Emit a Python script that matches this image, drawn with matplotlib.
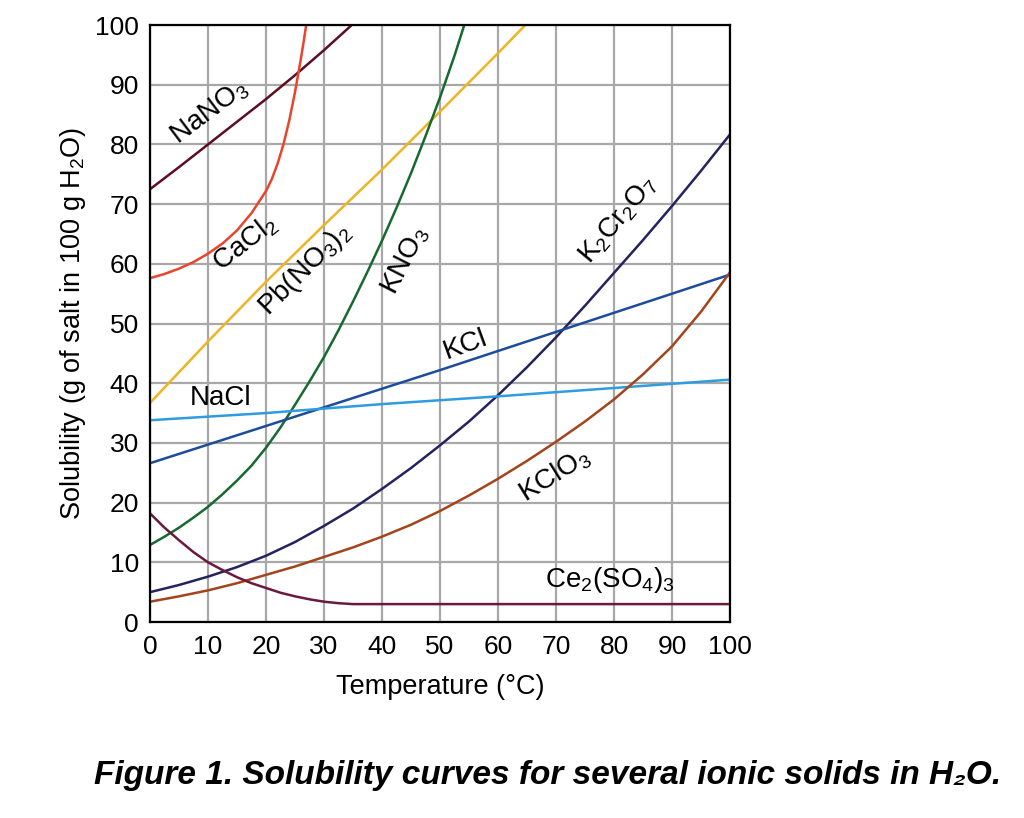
import matplotlib
matplotlib.use("Agg")
import matplotlib.pyplot as plt

plt.rcParams['font.family'] = ['Liberation Sans', 'DejaVu Sans']
plt.rcParams['mathtext.fontset'] = 'custom'
plt.rcParams['mathtext.rm'] = 'Liberation Sans'
plt.rcParams['mathtext.it'] = 'Liberation Sans:italic'
plt.rcParams['mathtext.bf'] = 'Liberation Sans:bold'

# solubility curves (temperature, g per 100 g water)
nano3_t = [0, 5, 10, 15, 20, 25, 30, 35]
nano3_s = [72.5, 76.2, 80, 83.8, 87.6, 91.6, 95.8, 100.2]

cacl2_t = [0, 2.5, 5, 7.5, 10, 12.5, 15, 17.5, 20, 21, 22, 23, 24, 25, 26, 26.5, 27]
cacl2_s = [57.6, 58.3, 59.2, 60.3, 61.7, 63.4, 65.6, 68.5, 72.2, 74.2, 76.8, 80, 84,
           88.8, 94.3, 97.3, 100.5]

pbno3_t = [0, 10, 20, 30, 40, 50, 60, 65]
pbno3_s = [36.7, 47, 57, 66.5, 75.8, 85.5, 95.3, 100.3]

kno3_t = [0, 2.5, 5, 7.5, 10, 12.5, 15, 17.5, 20, 22.5, 25, 27.5, 30,
          32.5, 35, 37.5, 40, 42.5, 45, 47.5, 50, 52.5, 54.3]
kno3_s = [12.9, 14.3, 15.8, 17.5, 19.3, 21.4, 23.7, 26.2, 29.2, 32.6, 36.4, 40.3, 44.4,
          48.9, 53.7, 58.7, 63.9, 69.4, 75.2, 81.4, 87.9, 94.9, 100.4]

k2cr2o7_t = [0, 5, 10, 15, 20, 25, 30, 35, 40, 45, 50,
             55, 60, 65, 70, 75, 80, 85, 90, 95, 100]
k2cr2o7_s = [5, 6.2, 7.6, 9.2, 11.1, 13.4, 16.1, 19, 22.3, 25.8, 29.6,
             33.6, 38, 42.7, 47.7, 53, 58.5, 64, 69.7, 75.6, 81.7]

kcl_t = [0, 50, 100]
kcl_s = [26.6, 42.2, 58.2]

nacl_t = [0, 20, 40, 60, 80, 100]
nacl_s = [33.8, 35, 36.5, 37.8, 39.2, 40.6]

kclo3_t = [0, 5, 10, 15, 20, 25, 30, 35, 40, 45, 50,
           55, 60, 65, 70, 75, 80, 85, 90, 95, 100]
kclo3_s = [3.4, 4.3, 5.3, 6.5, 7.9, 9.3, 10.9, 12.5, 14.3, 16.3, 18.6,
           21.2, 24, 27, 30.2, 33.6, 37.3, 41.5, 46.2, 52, 58.6]

ce2so4_t = [0, 2.5, 5, 7.5, 10, 12.5, 15, 17.5, 20, 22.5, 25, 27.5, 30, 32.5, 35, 40, 100]
ce2so4_s = [18.2, 15.8, 13.7, 11.7, 10, 8.7, 7.5, 6.5, 5.7, 4.9, 4.3, 3.8, 3.4, 3.15, 3.0, 3, 3]

fig = plt.figure(figsize=(10.24, 8.18), dpi=100)
ax = fig.add_axes([0.1465, 0.2396, 0.5665, 0.7298])

lw = 1.8
ax.plot(nano3_t, nano3_s, color='#5e0d22', lw=lw)
ax.plot(cacl2_t, cacl2_s, color='#e8452c', lw=lw)
ax.plot(pbno3_t, pbno3_s, color='#f0b323', lw=lw)
ax.plot(kno3_t, kno3_s, color='#17692f', lw=lw)
ax.plot(k2cr2o7_t, k2cr2o7_s, color='#24235e', lw=lw)
ax.plot(kcl_t, kcl_s, color='#1c4c9c', lw=lw)
ax.plot(nacl_t, nacl_s, color='#2e9ce0', lw=lw)
ax.plot(kclo3_t, kclo3_s, color='#a3441c', lw=lw)
ax.plot(ce2so4_t, ce2so4_s, color='#6a1a3c', lw=lw)

ax.set_xlim(0, 100)
ax.set_ylim(0, 100)
ax.set_xticks(range(0, 101, 10))
ax.set_yticks(range(0, 101, 10))
ax.tick_params(length=0, labelsize=19)
ax.tick_params(axis='x', pad=9)
ax.tick_params(axis='y', pad=8)
ax.grid(True, color='#a8a8a8', lw=1.6)
ax.set_axisbelow(True)
for sp in ax.spines.values():
    sp.set_linewidth(1.6)

ax.set_xlabel('Temperature (°C)', fontsize=19.5, labelpad=11)
ax.set_ylabel('Solubility (g of salt in 100 g H$_2$O)', fontsize=19.5, labelpad=5)

fs = 20
ax.text(10.3, 85.4, 'NaNO$_3$', fontsize=fs, rotation=37, ha='center', va='center')
ax.text(16.4, 63.5, 'CaCl$_2$', fontsize=fs, rotation=38, ha='center', va='center')
ax.text(26.7, 59, 'Pb(NO$_3$)$_2$', fontsize=fs, rotation=45, ha='center', va='center')
ax.text(44, 60.6, 'KNO$_3$', fontsize=fs, rotation=63, ha='center', va='center')
ax.text(80.7, 67.3, 'K$_2$Cr$_2$O$_7$', fontsize=fs, rotation=50, ha='center', va='center')
ax.text(54.3, 46.4, 'KCl', fontsize=fs, rotation=20, ha='center', va='center')
ax.text(12.1, 37.5, 'NaCl', fontsize=fs, ha='center', va='center')
ax.text(69.8, 24.6, 'KClO$_3$', fontsize=fs, rotation=32, ha='center', va='center')
ax.text(79.3, 7.0, 'Ce$_2$(SO$_4$)$_3$', fontsize=fs, ha='center', va='center')

fig.text(0.535, 0.052, 'Figure 1. Solubility curves for several ionic solids in H\u2082O.',
         fontsize=24, fontweight='bold', fontstyle='italic', ha='center', va='center')

fig.savefig('out.png', dpi=100)
